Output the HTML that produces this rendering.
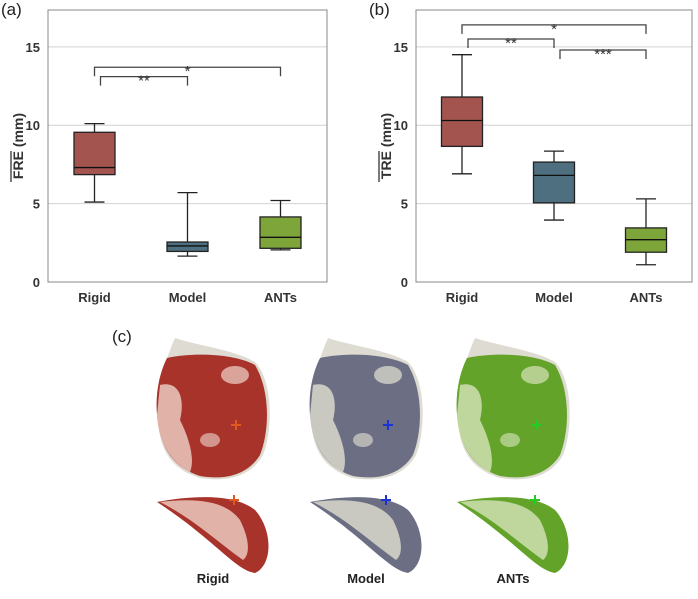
<!DOCTYPE html>
<html><head><meta charset="utf-8"><style>
body{margin:0;background:#fff;width:698px;height:594px;overflow:hidden;font-family:"Liberation Sans",sans-serif}
svg text{font-family:"Liberation Sans",sans-serif}
</style></head><body>
<svg id="fig" width="698" height="594">
<g id="pa"></g>
<g id="pb"></g>
<g id="pc">
<text x="112" y="342" font-size="17" fill="#222">(c)</text>
</g>
</svg>
<script>
const categories=["Rigid","Model","ANTs"];
const colors=["#a3544f","#4d6f7f","#7da53a"];
const yTicks=[0,5,10,15];
// [min,q1,median,q3,max]
const freRigid=[5.1,6.85,7.3,9.55,10.1];
const freModel=[1.65,1.95,2.3,2.55,5.7];
const freANTs=[2.05,2.15,2.85,4.15,5.2];
const treRigid=[6.9,8.65,10.3,11.8,14.5];
const treModel=[3.95,5.05,6.8,7.65,8.35];
const treANTs=[1.1,1.9,2.7,3.45,5.3];
// brackets: [fromIdx,toIdx,level,label]
const freBrackets=[[0,2,13.7,"*"],[0,1,13.1,"**"]];
const treBrackets=[[0,2,16.4,"*"],[0,1,15.5,"**"],[1,2,14.8,"***"]];
const NS="http://www.w3.org/2000/svg";
function mk(p,tag,at){const e=document.createElementNS(NS,tag);for(const k in at)e.setAttribute(k,at[k]);p.appendChild(e);return e;}
function panel(g,L,R,T,B,data,brackets,ylab,letter){
 const ymax=17.35;
 const y=v=>B-(v/ymax)*(B-T);
 const step=(R-L)/3;
 const x=i=>L+step*(i+0.5);
 const bw=41;
 for(const t of yTicks){
  if(t>0){const gl=mk(g,'line',{x1:L,x2:R,y1:y(t),y2:y(t),stroke:'#d2d2d2','stroke-width':1});
  }
  const tl=mk(g,'text',{x:L-8,y:y(t)+5,'text-anchor':'end','font-size':13,'font-weight':'bold',fill:'#333'});tl.textContent=t;
  
 }
 const fr=mk(g,'rect',{x:L,y:T,width:R-L,height:B-T,fill:'none',stroke:'#888','stroke-width':1});
 
 data.forEach((d,i)=>{
  const cx=x(i);
  const bg=mk(g,'g',{});
  mk(bg,'line',{x1:cx,x2:cx,y1:y(d[0]),y2:y(d[1]),stroke:'#222','stroke-width':1.3});
  mk(bg,'line',{x1:cx,x2:cx,y1:y(d[3]),y2:y(d[4]),stroke:'#222','stroke-width':1.3});
  mk(bg,'line',{x1:cx-10,x2:cx+10,y1:y(d[0]),y2:y(d[0]),stroke:'#222','stroke-width':1.3});
  mk(bg,'line',{x1:cx-10,x2:cx+10,y1:y(d[4]),y2:y(d[4]),stroke:'#222','stroke-width':1.3});
  mk(bg,'rect',{x:cx-bw/2,y:y(d[3]),width:bw,height:y(d[1])-y(d[3]),fill:colors[i],stroke:'#222','stroke-width':1.3});
  mk(bg,'line',{x1:cx-bw/2,x2:cx+bw/2,y1:y(d[2]),y2:y(d[2]),stroke:'#111','stroke-width':1.3});
  const xl=mk(g,'text',{x:cx,y:B+20,'text-anchor':'middle','font-size':13,'font-weight':'bold',fill:'#333'});xl.textContent=categories[i];
  
 });
 const top=Math.max(...brackets.map(q=>q[2]));
 brackets.forEach(b=>{
  const x1=x(b[0])+(b[0]===0&&b[2]<top?6:0)+(b[0]===1?6:0);
  const x2=x(b[1]);const yy=y(b[2]);
  const p=mk(g,'path',{d:`M${x1},${yy+9}V${yy}H${x2}V${yy+9}`,fill:'none',stroke:'#444','stroke-width':1.3});
  
  const t=mk(g,'text',{x:(x1+x2)/2,y:yy+9,'text-anchor':'middle','font-size':15,fill:'#333'});t.textContent=b[3];
  
 });
 const cy=(T+B)/2;
 const yl=mk(g,'text',{transform:`translate(${L-25},${cy}) rotate(-90)`,'text-anchor':'middle','font-size':14,'font-weight':'bold',fill:'#333'});
 yl.textContent=ylab+' (mm)';
 
 const ov=mk(g,'line',{x1:L-37,x2:L-37,y1:cy+36,y2:cy+5,stroke:'#333','stroke-width':1.3});
 
 const pl=mk(g,'text',{x:L-47,y:T+5,'font-size':17,fill:'#222'});pl.textContent='('+letter+')';
 
}
panel(document.getElementById('pa'),48,327,10,282,[freRigid,freModel,freANTs],freBrackets,'FRE','a');
panel(document.getElementById('pb'),416,692,10,282,[treRigid,treModel,treANTs],treBrackets,'TRE','b');
// panel c surfaces
const pc=document.getElementById('pc');
const surf=[["#a8332b","#e6c0b6",155,236,"#e05a20"],["#6c6f84","#d4d3c9",308,388,"#1a33d6"],["#63a32a","#c9dba8",455,537,"#22cc22"]];
surf.forEach((s,i)=>{
 const ox=s[2];
 const g=mk(pc,'g',{});
 mk(g,'path',{d:`M${ox+20},338 C${ox+40},345 ${ox+80},350 ${ox+100},362 C${ox+118},380 ${ox+118},430 ${ox+108},455 C${ox+95},478 ${ox+70},482 ${ox+45},478 C${ox+20},470 ${ox+5},455 ${ox+3},420 C${ox},395 ${ox+10},360 ${ox+20},338Z`,fill:'#dedcd2'});
 mk(g,'path',{d:`M${ox+12},358 C${ox+40},352 ${ox+80},354 ${ox+100},365 C${ox+115},390 ${ox+115},430 ${ox+105},455 C${ox+92},476 ${ox+68},480 ${ox+45},476 C${ox+20},468 ${ox+5},450 ${ox+2},415 C${ox},392 ${ox+5},372 ${ox+12},358Z`,fill:s[0]});
 mk(g,'path',{d:`M${ox+5},385 C${ox+25},380 ${ox+30},400 ${ox+25},420 C${ox+35},440 ${ox+40},460 ${ox+35},472 C${ox+15},462 ${ox+3},440 ${ox+2},415Z`,fill:s[1],opacity:.9});
 mk(g,'ellipse',{cx:ox+80,cy:375,rx:14,ry:9,fill:s[1],opacity:.8});
 mk(g,'ellipse',{cx:ox+55,cy:440,rx:10,ry:7,fill:s[1],opacity:.7});
 mk(g,'path',{d:`M${ox+2},502 C${ox+40},495 ${ox+80},494 ${ox+100},510 C${ox+118},530 ${ox+118},565 ${ox+100},573 C${ox+80},570 ${ox+60},540 ${ox+2},502Z`,fill:s[0]});
 mk(g,'path',{d:`M${ox+5},502 C${ox+40},498 ${ox+70},500 ${ox+85},520 C${ox+95},540 ${ox+95},555 ${ox+88},560 C${ox+60},540 ${ox+40},520 ${ox+5},502Z`,fill:s[1],opacity:.9});
 [[s[3],425],[s[3]-2,500]].forEach(c=>{
  const cr=mk(g,'path',{d:`M${c[0]-5},${c[1]}h10M${c[0]},${c[1]-5}v10`,stroke:s[4],'stroke-width':2});
  
 });
 const lb=mk(g,'text',{x:ox+58,y:583,'text-anchor':'middle','font-size':13,'font-weight':'bold',fill:'#222'});lb.textContent=categories[i];
 
});
</script>
</body></html>
